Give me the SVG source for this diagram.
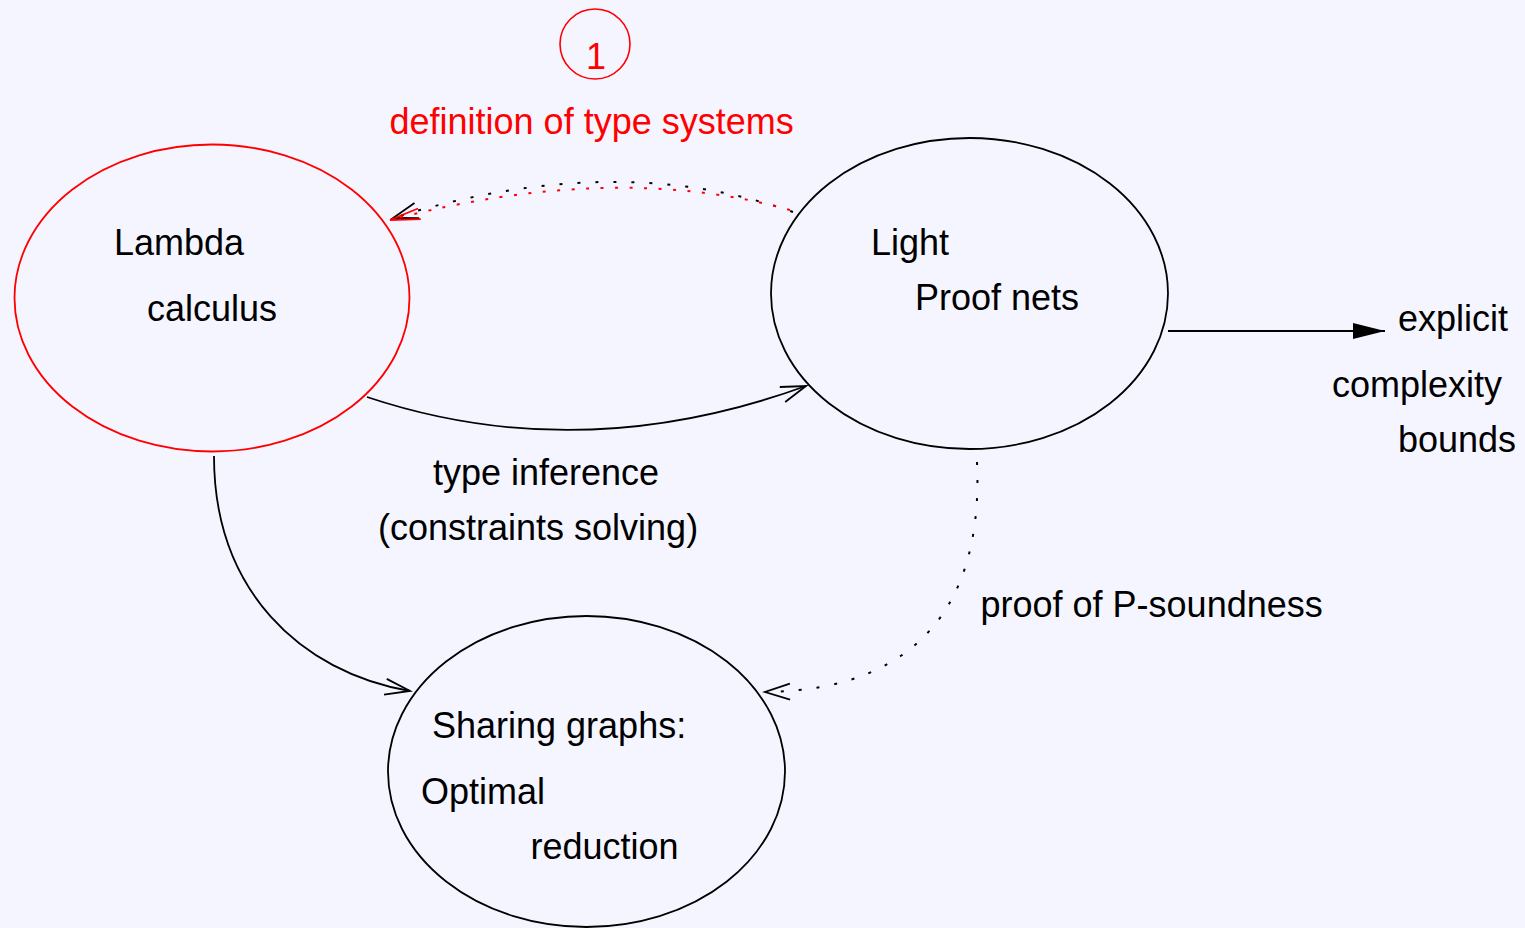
<svg xmlns="http://www.w3.org/2000/svg" width="1525" height="928" viewBox="0 0 1525 928">
  <defs>
    <style>
      text { font-family: "Liberation Sans", Arial, Helvetica, sans-serif; font-size: 36px; fill: #000; }
      text.red { fill: #ff0000; }
      .node { fill: none; stroke: #000; stroke-width: 1.8; }
      .node.red { stroke: #ff0000; }
      .edge { fill: none; stroke: #000; stroke-width: 1.8; }
      .dot { fill: none; stroke: #000; stroke-width: 2; stroke-dasharray: 3 15; }
      .dot.red { stroke: #ff0000; stroke-dasharray: 3 11.5; }
    </style>
    <marker id="open" markerUnits="userSpaceOnUse" markerWidth="40" markerHeight="30" refX="0" refY="0" viewBox="-30 -15 40 30" orient="auto" overflow="visible">
      <path d="M-25,-8 L0,0 L-25,8" fill="none" stroke="#000" stroke-width="1.8"/>
    </marker>
    <marker id="open-red" markerUnits="userSpaceOnUse" markerWidth="40" markerHeight="30" refX="0" refY="0" viewBox="-30 -15 40 30" orient="auto" overflow="visible">
      <path d="M-30,-7 L0,0 L-30,4" fill="none" stroke="#ff0000" stroke-width="1.8"/>
    </marker>
    <marker id="solid" markerUnits="userSpaceOnUse" markerWidth="40" markerHeight="30" refX="0" refY="0" viewBox="-35 -15 40 30" orient="auto" overflow="visible">
      <path d="M-32,-8 L0,0 L-32,8 Z" fill="#000" stroke="none"/>
    </marker>
  </defs>

  <rect x="0" y="0" width="1525" height="928" fill="#f5f5ff"/>

  <!-- connectors -->
  <g id="edges">
    <path class="dot" d="M793,212 Q615,149 393,218" marker-end="url(#open)"/>
    <path class="dot red" d="M790,210 Q615,161 390,220" marker-end="url(#open-red)"/>
    <path class="edge" d="M367,397 Q580,468 806,386" marker-end="url(#open)"/>
    <path class="edge" d="M214,456 C214,590 300,672 410,691" marker-end="url(#open)"/>
    <path class="dot" d="M977,462 C983,590 930,690 765,692" marker-end="url(#open)"/>
    <path class="edge" d="M1168,331 L1385,331" marker-end="url(#solid)"/>
  </g>

  <!-- numbered tag and its caption -->
  <g id="label-1">
    <circle cx="595" cy="44" r="35" fill="none" stroke="#ff0000" stroke-width="1.6"/>
    <text class="red" x="596" y="69" text-anchor="middle">1</text>
    <text class="red" x="389.5" y="134">definition of type systems</text>
  </g>

  <g id="lambda">
    <ellipse class="node red" cx="212" cy="298" rx="197.5" ry="153.5"/>
    <text x="114" y="255">Lambda</text>
    <text x="147" y="321">calculus</text>
  </g>

  <g id="proofnets">
    <ellipse class="node" cx="969.5" cy="293.5" rx="198.5" ry="155.5"/>
    <text x="871" y="255">Light</text>
    <text x="915" y="310">Proof nets</text>
  </g>

  <g id="sharing">
    <ellipse class="node" cx="586.5" cy="771.5" rx="198.5" ry="155.5"/>
    <text x="432" y="738">Sharing graphs:</text>
    <text x="421" y="804">Optimal</text>
    <text x="530.5" y="859">reduction</text>
  </g>

  <g id="bounds">
    <text x="1398" y="331">explicit</text>
    <text x="1332" y="397">complexity</text>
    <text x="1398" y="452">bounds</text>
  </g>

  <g id="edge-labels">
    <text x="433" y="485">type inference</text>
    <text x="378" y="540">(constraints solving)</text>
    <text x="980.5" y="617">proof of P-soundness</text>
  </g>
</svg>
